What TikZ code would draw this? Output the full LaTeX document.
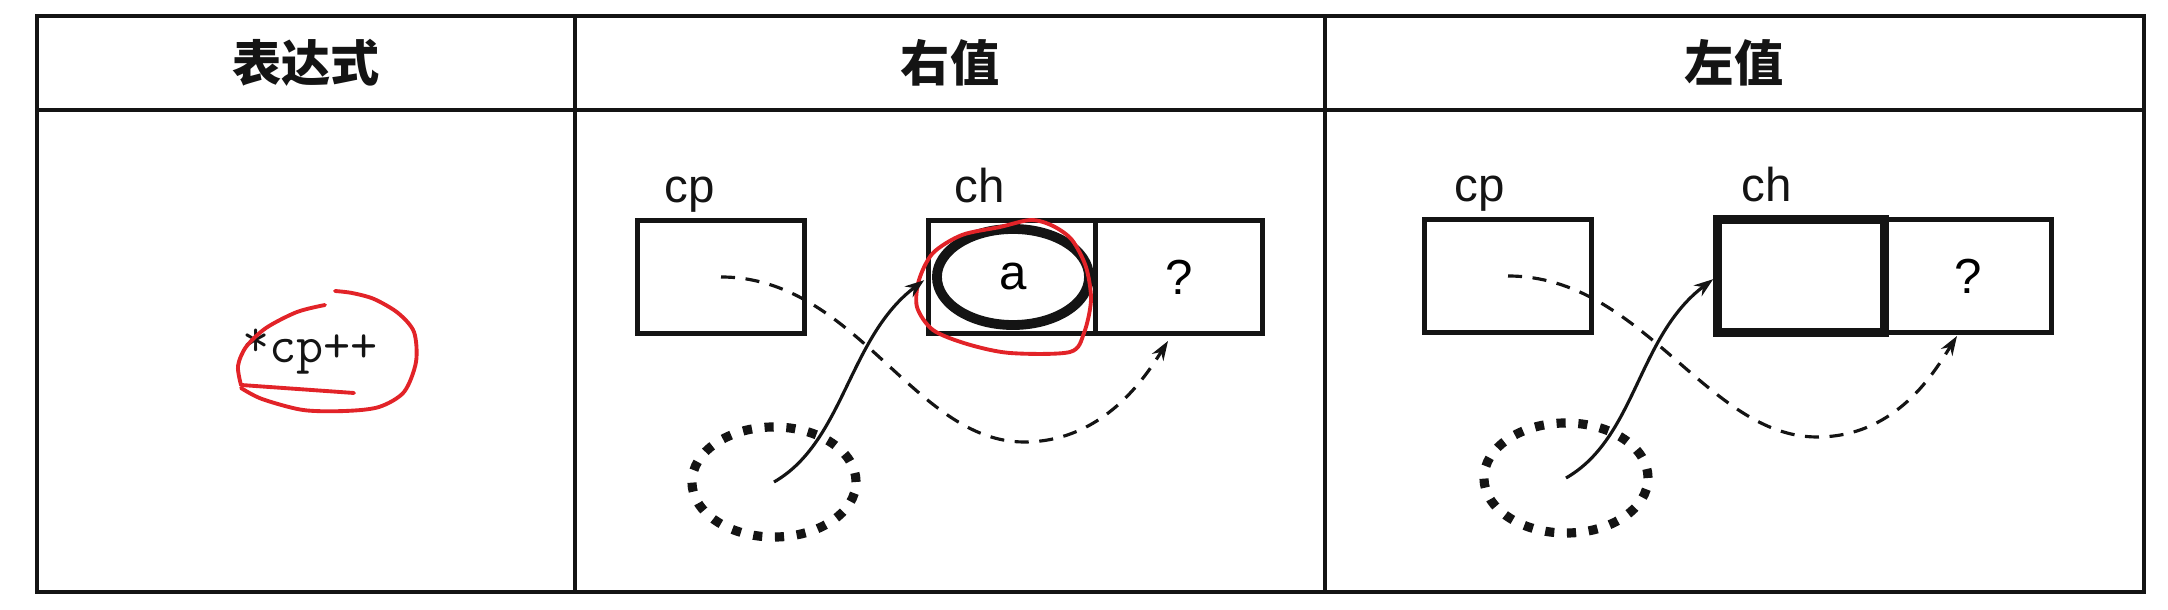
\documentclass[tikz,border=0pt]{standalone}
\usepackage{fontspec}
\setmainfont{Liberation Sans}
\newfontfamily\cjk{Noto Sans CJK SC}
\usetikzlibrary{arrows.meta, positioning, shapes.geometric}
\definecolor{ink}{HTML}{141414}
\definecolor{penred}{HTML}{E22328}

\begin{document}
\begin{tikzpicture}[
  x=0.01cm, y=-0.01cm,
  >={Stealth[length=5.5pt, width=3.8pt]},
  rule/.style={ink, line width=1.1pt},
  head/.style={ink, font=\cjk\bfseries\fontsize{14}{16}\selectfont},
  cell/.style={draw=ink, line width=1.5pt, inner sep=0pt, outer sep=0pt,
    minimum width=1.67cm, minimum height=1.13cm,
    font=\fontsize{14}{16}\selectfont},
  boldcell/.style={cell, line width=2.6pt},
  lbl/.style={ink, anchor=base, font=\fontsize{13.5}{15}\selectfont},
  ring/.style={draw=ink, ellipse, line width=2.6pt,
    dash pattern=on 2.6pt off 3.6pt, minimum width=1.64cm, minimum height=1.1cm},
  ptr/.style={->, ink, line width=0.9pt, dash pattern=on 4pt off 3pt},
  addr/.style={->, ink, line width=0.9pt, shorten >=1.5pt},
  pen/.style={penred, line width=1.1pt, line cap=round, line join=round},
]
\useasboundingbox (0,0) rectangle (2168,610);

% ══════════════════════════════════════════════════════
% Table frame and headers
% ══════════════════════════════════════════════════════
\draw[rule] (37,16) rectangle (2144,592);
\draw[rule] (37,110) -- (2144,110);
\foreach \x in {575,1325}
  \draw[rule] (\x,16) -- (\x,592);

\node[head] (hExpr) at (306,63) {表达式};
\node[head] (hRval) at (950,63) {右值};
\node[head] (hLval) at (1734,63) {左值};

% ══════════════════════════════════════════════════════
% Expression column
% ══════════════════════════════════════════════════════
\node[ink, anchor=base, font=\ttfamily\fontsize{15}{17}\selectfont]
  (expr) at (310,363) {\raisebox{0.3ex}{*}cp++};

% red pen loop round the expression
\draw[pen] plot[smooth] coordinates
  {(325,305) (297,312) (266,328) (246,347) (238,366) (241,385)}
  -- (354,393);
\draw[pen] plot[smooth] coordinates
  {(241,388) (262,399) (303,410) (345,411) (379,407) (404,392)
   (416,362) (414,332) (398,313) (374,299) (352,293) (335,291)};

% ══════════════════════════════════════════════════════
% Rvalue column
% ══════════════════════════════════════════════════════
\node[cell] (cpR) at (721,277) {};
\node[cell] (chR) at (1012,277) {};
\node[cell, right=0pt of chR] (qR) {?};

\node[lbl] (cpLblR) at (690,203) {cp};
\node[lbl] (chLblR) at (980,203) {ch};

% the value held in ch
\node[draw=ink, ellipse, line width=2.8pt, inner sep=0pt,
  minimum width=1.52cm, minimum height=0.96cm,
  font=\fontsize{14}{16}\selectfont] (valR) at (1013,277) {a};

% red pen loop round the value
\draw[pen] plot[smooth cycle] coordinates
  {(1031,220) (1000,227) (962,235) (933,253) (919,280) (917,307)
   (933,330) (967,344) (1010,353) (1070,352) (1084,333) (1091,300)
   (1086,267) (1072,240) (1053,226)};

% temporary and the two pointers
\node[ring] (tmpR) at (774,482) {};
\coordinate (dipR) at (1024,442);
\coordinate (qtipR) at (1168,341);

\draw[addr] (tmpR.center) .. controls +(70,-40) and +(-80,60) .. (chR.west);
\draw[ptr] (cpR.center) .. controls +(135,0) and +(-110,0) .. (dipR)
  .. controls +(80,0) and +(-22,35) .. (qtipR);

% ══════════════════════════════════════════════════════
% Lvalue column
% ══════════════════════════════════════════════════════
\node[cell] (cpL) at (1508,276) {};
\node[boldcell] (chL) at (1801,276) {};
\node[cell, right=0pt of chL] (qL) {?};

\node[lbl] (cpLblL) at (1480,202) {cp};
\node[lbl] (chLblL) at (1767,202) {ch};

\node[ring] (tmpL) at (1566,478) {};
\coordinate (dipL) at (1817,437);
\coordinate (qtipL) at (1957,336);

\draw[addr] (tmpL.center) .. controls +(70,-40) and +(-80,60) .. (chL.west);
\draw[ptr] (cpL.center) .. controls +(135,0) and +(-110,0) .. (dipL)
  .. controls +(80,0) and +(-22,35) .. (qtipL);

\end{tikzpicture}
\end{document}
